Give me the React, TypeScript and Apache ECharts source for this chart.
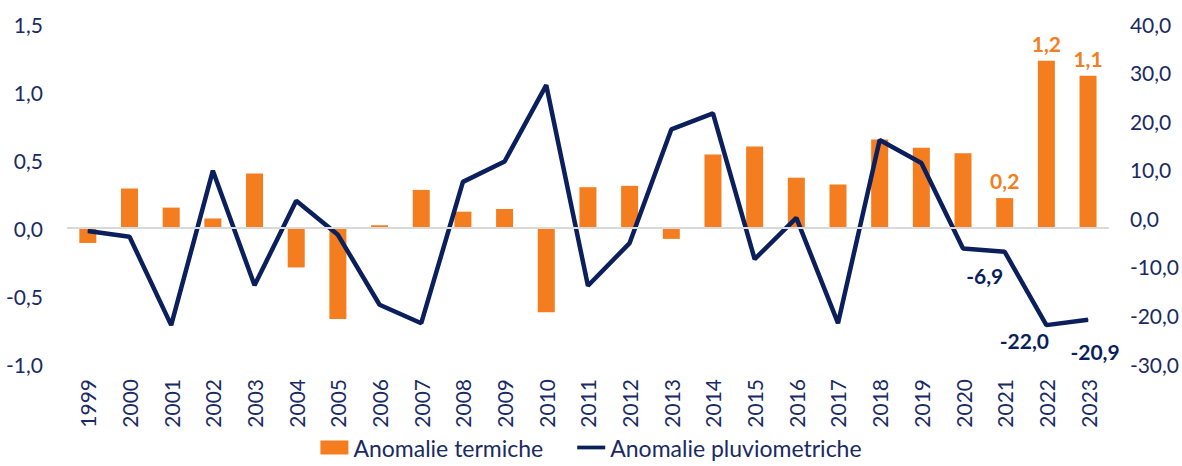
import React, { useEffect, useRef } from "react";
import * as echarts from "echarts";

const years = [
  "1999", "2000", "2001", "2002", "2003", "2004", "2005", "2006", "2007", "2008",
  "2009", "2010", "2011", "2012", "2013", "2014", "2015", "2016", "2017", "2018",
  "2019", "2020", "2021", "2022", "2023",
];
const thermalAnomaly = [
  -0.11, 0.29, 0.15, 0.07, 0.4, -0.29, -0.67, 0.02, 0.28, 0.12,
  0.14, -0.62, 0.3, 0.31, -0.08, 0.54, 0.6, 0.37, 0.32, 0.65,
  0.59, 0.55, 0.22, 1.23, 1.12,
];
const rainAnomaly = [
  -2.6, -3.8, -22.0, 9.8, -13.8, 3.6, -3.4, -17.8, -21.6, 7.5,
  11.7, 27.4, -13.9, -5.1, 18.3, 21.6, -8.4, 0.1, -21.6, 16.1,
  11.4, -6.2, -6.9, -22.0, -20.9,
];
const barLabelYears = ["2021", "2022", "2023"];
const lineLabelYears = ["2021", "2022", "2023"];
const lineLabelOffsets = [[-20, 8], [-22, -1], [7, 16]];

const ORANGE = "#F47D20";
const NAVY_LINE = "#0a1f5c";
const NAVY_TEXT = "#1a2a63";
const FONT = "Lato, 'Noto Sans', sans-serif";

const fmt = (v: number) => v.toFixed(1).replace(".", ",");

export default function App() {
  const ref = useRef<HTMLDivElement>(null);
  useEffect(() => {
    if (!ref.current) return;
    const chart = echarts.init(ref.current, null, { renderer: "svg" });
    const barData = thermalAnomaly.map((v, i) =>
      barLabelYears.includes(years[i])
        ? {
            value: v,
            label: {
              show: true,
              position: "top",
              distance: 7,
              color: ORANGE,
              fontWeight: "bold",
              fontSize: 21,
              fontFamily: FONT,
              formatter: (p: any) => fmt(p.value),
            },
          }
        : v
    );
    const lineData = rainAnomaly.map((v, i) => {
      const k = lineLabelYears.indexOf(years[i]);
      return k >= 0
        ? {
            value: v,
            label: {
              show: true,
              position: "bottom",
              offset: lineLabelOffsets[k],
              color: NAVY_LINE,
              fontWeight: "bold",
              fontSize: 21,
              fontFamily: FONT,
              formatter: (p: any) => fmt(p.value),
            },
          }
        : v;
    });
    chart.setOption({
      animation: false,
      backgroundColor: "#ffffff",
      grid: { left: 67, right: 70, top: 24, bottom: 102 },
      legend: {
        top: 431,
        left: "center",
        itemWidth: 28,
        itemHeight: 14,
        itemGap: 34,
        symbolKeepAspect: true,
        textStyle: { color: NAVY_TEXT, fontSize: 23, fontFamily: FONT },
        data: [
          { name: "Anomalie termiche", icon: "rect" },
          {
            name: "Anomalie pluviometriche",
            icon: "path://M0,0 L30,0 L30,4 L0,4 Z",
            itemStyle: { color: NAVY_LINE },
          },
        ],
      },
      xAxis: {
        type: "category",
        data: years,
        axisLine: { show: false },
        axisTick: { show: false },
        axisLabel: {
          rotate: 90,
          margin: 15,
          color: NAVY_TEXT,
          fontSize: 21,
          fontFamily: FONT,
        },
      },
      yAxis: [
        {
          type: "value",
          min: -1,
          max: 1.5,
          interval: 0.5,
          splitLine: { show: false },
          axisLine: { show: false },
          axisTick: { show: false },
          axisLabel: {
            margin: 24,
            color: NAVY_TEXT,
            fontSize: 21,
            fontFamily: FONT,
            formatter: (v: number) => fmt(v),
          },
        },
        {
          type: "value",
          min: -30,
          max: 40,
          interval: 10,
          splitLine: { show: false },
          axisLine: { show: false },
          axisTick: { show: false },
          axisLabel: {
            margin: 21,
            color: NAVY_TEXT,
            fontSize: 21,
            fontFamily: FONT,
            formatter: (v: number) => fmt(v),
          },
        },
      ],
      series: [
        {
          name: "Anomalie termiche",
          type: "bar",
          yAxisIndex: 0,
          barWidth: 17,
          itemStyle: { color: ORANGE },
          data: barData,
          markLine: {
            silent: true,
            symbol: "none",
            label: { show: false },
            lineStyle: { color: "#d9d9d9", width: 2, type: "solid" },
            data: [{ yAxis: 0 }],
          },
          z: 2,
        },
        {
          name: "Anomalie pluviometriche",
          type: "line",
          yAxisIndex: 1,
          symbol: "circle",
          symbolSize: 1,
          showSymbol: true,
          lineStyle: { color: NAVY_LINE, width: 4.5 },
          itemStyle: { color: NAVY_LINE },
          data: lineData,
          z: 3,
        },
      ],
    });
    return () => chart.dispose();
  }, []);
  return (
    <div
      ref={ref}
      style={{ position: "fixed", left: 0, top: 0, width: 1182, height: 466 }}
    />
  );
}
